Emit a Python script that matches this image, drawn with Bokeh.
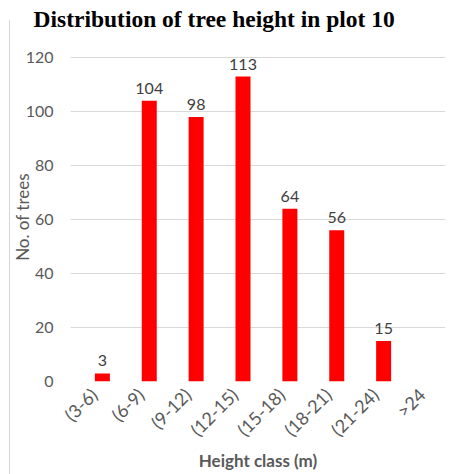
import math
from bokeh.plotting import figure
from bokeh.models import ColumnDataSource, FactorRange, Range1d, FixedTicker, InlineStyleSheet, Title
from bokeh.transform import dodge
from bokeh.core.properties import value
from bokeh.embed import file_html
from bokeh.resources import INLINE

categories = ["(3-6)", "(6-9)", "(9-12)", "(12-15)", "(15-18)", "(18-21)", "(21-24)", ">24"]
counts = [3, 104, 98, 113, 64, 56, 15, 0]
y_ticks = [0, 20, 40, 60, 80, 100, 120]
title_text = "Distribution of tree height in plot 10"
y_title = "No. of trees"
x_title = "Height class (m)"

labels = [str(c) if c > 0 else "" for c in counts]
src = ColumnDataSource(dict(cat=categories, n=counts, lab=labels))

FONT = "Lato"
GRAY = "#595959"

edge_css = InlineStyleSheet(css="""
:host::after { content: ''; position: absolute; left: 9px; top: 20px; bottom: 0px;
  width: 1px; background: #d6d6d6; z-index: 10; pointer-events: none; }
""")

p = figure(width=451, height=474, x_range=FactorRange(*categories, range_padding=0),
           y_range=Range1d(0, 121.9), output_backend="svg", toolbar_location=None,
           min_border_left=70, min_border_right=6, min_border_bottom=93, min_border_top=52,
           background_fill_color="white", border_fill_color="white", outline_line_color=None,
           margin=0, stylesheets=[edge_css])

p.title.text = title_text
p.title.text_font = "Liberation Serif"
p.title.text_font_size = "23.5px"
p.title.text_font_style = "bold"
p.title.text_color = "black"
p.title.align = "left"
p.title.vertical_align = "top"
p.title.offset = -37
p.title.standoff = 10

# thin spacer between the title and the plot frame
p.add_layout(Title(text=" ", text_font_size="1px", standoff=11), "above")

p.vbar(x=dodge("cat", 0.18, range=p.x_range), top="n", width=0.32, bottom=0, source=src,
       fill_color="#ff0000", line_color=None)

p.text(x=dodge("cat", 0.18, range=p.x_range), y="n", text="lab", source=src,
       text_align="center", text_baseline="bottom", y_offset=-7,
       text_font=value(FONT), text_font_size="16px", text_color="#404040")

p.xgrid.grid_line_color = None
p.ygrid.grid_line_color = "#d9d9d9"
p.ygrid.grid_line_width = 1
p.yaxis.ticker = FixedTicker(ticks=y_ticks)

for ax in (p.xaxis, p.yaxis):
    ax.axis_line_color = None
    ax.major_tick_line_color = None
    ax.minor_tick_line_color = None
    ax.major_tick_out = 0
    ax.major_tick_in = 0
    ax.minor_tick_out = 0
    ax.minor_tick_in = 0
    ax.major_label_text_font = FONT
    ax.major_label_text_color = GRAY
    ax.axis_label_text_font = FONT
    ax.axis_label_text_color = GRAY

p.yaxis.major_label_text_font_size = "16px"
p.yaxis.major_label_standoff = 17
p.yaxis.axis_label = y_title
p.yaxis.axis_label_text_font_size = "17px"
p.yaxis.axis_label_text_font_style = "normal"
p.yaxis.axis_label_standoff = -10

p.xaxis.major_label_text_font_size = "18px"
p.xaxis.major_label_orientation = math.pi / 4
p.xaxis.major_label_standoff = 10
p.xaxis.axis_label = x_title
p.xaxis.axis_label_text_font_size = "17px"
p.xaxis.axis_label_text_font_style = "bold"
p.xaxis.axis_label_standoff = -1

open("out.html", "w").write(file_html(p, INLINE))
